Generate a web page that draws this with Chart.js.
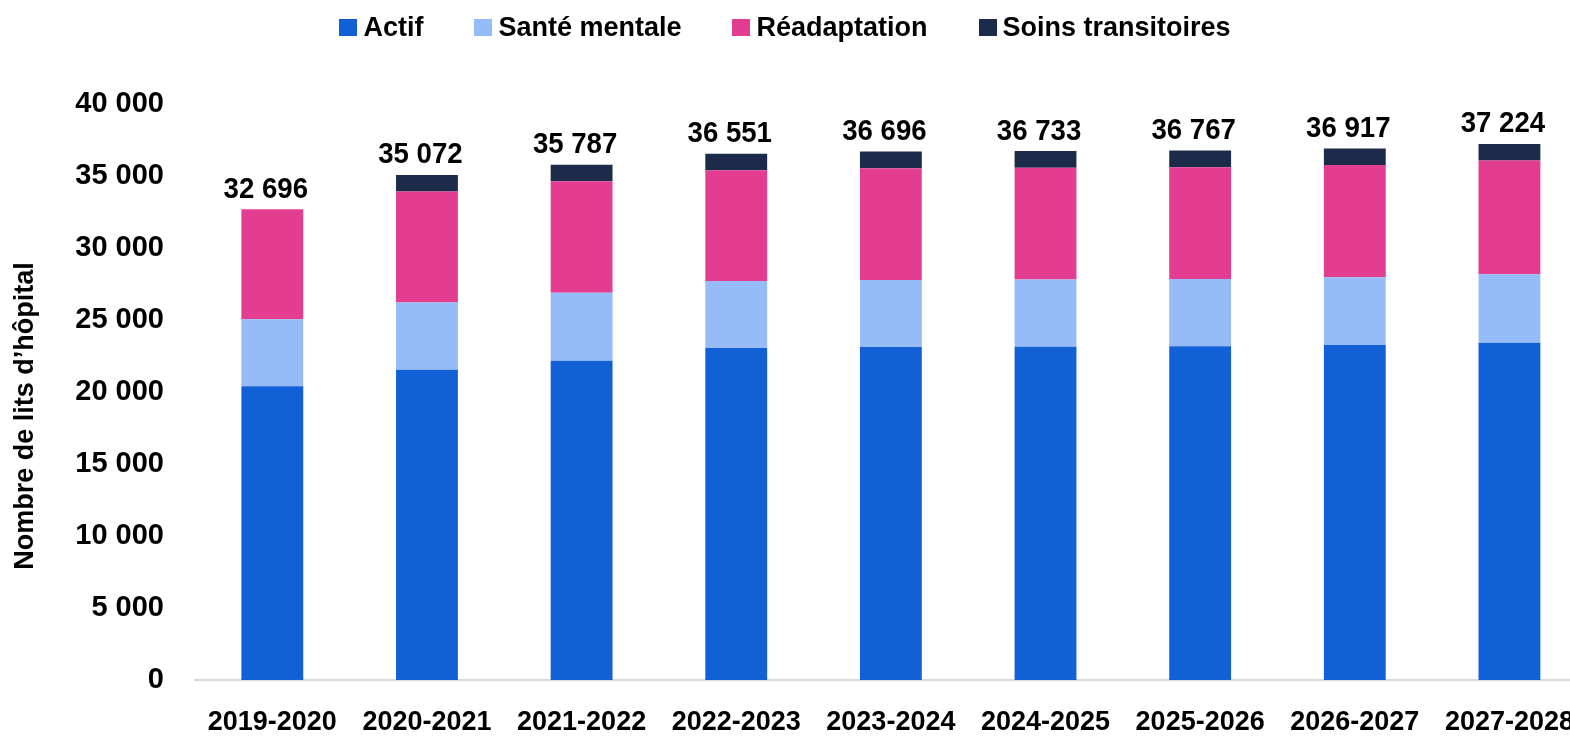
<!DOCTYPE html>
<html>
<head>
<meta charset="utf-8">
<script src="https://cdn.jsdelivr.net/npm/chart.js@4/dist/chart.umd.min.js"></script>
<style>
  html, body { margin: 0; padding: 0; background: #fff; overflow: hidden; width: 1570px; height: 737px; }
  #wrap { position: relative; width: 1600px; height: 737px; }
  #legend { position: absolute; top: 12px; left: 0; width: 1570px; display: flex; justify-content: center; align-items: center; font-family: "Liberation Sans", Arial, sans-serif; font-weight: bold; font-size: 27px; color: #000; z-index: 2; }
  .item { display: flex; align-items: center; margin: 0 25.5px; }
  .box { width: 18px; height: 17px; margin-right: 6px; }
  canvas { position: absolute; left: 0; top: 0; width: 1600px; height: 737px; }
</style>
</head>
<body>
<div id="wrap">
  <div id="legend"></div>
  <canvas id="c" width="1600" height="737"></canvas>
</div>
<script>
const categories = ["2019-2020","2020-2021","2021-2022","2022-2023","2023-2024","2024-2025","2025-2026","2026-2027","2027-2028"];
const actif = [20400, 21550, 22170, 23060, 23130, 23140, 23170, 23270, 23420];
const santeMentale = [4650, 4670, 4730, 4640, 4640, 4680, 4680, 4700, 4750];
const readaptation = [7646, 7700, 7730, 7700, 7770, 7760, 7760, 7800, 7900];
const soinsTransitoires = [0, 1152, 1157, 1151, 1156, 1153, 1157, 1147, 1154];
const totals = [32696, 35072, 35787, 36551, 36696, 36733, 36767, 36917, 37224];
const seriesNames = ["Actif", "Santé mentale", "Réadaptation", "Soins transitoires"];
const seriesColors = ["#1160D6", "#95BCF7", "#E33D92", "#1C2B4A"];
const yTicks = [0, 5000, 10000, 15000, 20000, 25000, 30000, 35000, 40000];
const yTitle = "Nombre de lits d’hôpital";

const FONT = '"Liberation Sans", Arial, sans-serif';
const fmt = v => String(v).replace(/\B(?=(\d{3})+(?!\d))/g, ' ');

// HTML legend
const leg = document.getElementById('legend');
seriesNames.forEach((n, i) => {
  const it = document.createElement('div'); it.className = 'item';
  const b = document.createElement('div'); b.className = 'box'; b.style.background = seriesColors[i];
  const t = document.createElement('span'); t.textContent = n;
  it.appendChild(b); it.appendChild(t); leg.appendChild(it);
});

const extras = {
  id: 'extras',
  afterDatasetsDraw(chart) {
    const ctx = chart.ctx;
    const y = chart.scales.y, x = chart.scales.x;
    totals.forEach((t, i) => {
      ctx.save();
      ctx.font = 'bold 30px ' + FONT;
      ctx.fillStyle = '#000';
      ctx.textAlign = 'center';
      ctx.textBaseline = 'alphabetic';
      ctx.translate(x.getPixelForValue(i) - 6.5, y.getPixelForValue(t) - 11.5);
      ctx.scale(0.92, 1);
      ctx.fillText(fmt(t), 0, 0);
      ctx.restore();
    });
    // y-axis title
    ctx.save();
    ctx.font = 'bold 27px ' + FONT;
    ctx.fillStyle = '#000';
    ctx.textAlign = 'center';
    ctx.textBaseline = 'middle';
    ctx.translate(26, 416);
    ctx.rotate(-Math.PI / 2);
    ctx.fillText(yTitle, 0, 0);
    ctx.restore();
  }
};

const mk = (label, data, color) => ({ label, data, backgroundColor: color, borderWidth: 0, barPercentage: 0.4, categoryPercentage: 1.0 });

new Chart(document.getElementById('c'), {
  type: 'bar',
  data: {
    labels: categories,
    datasets: [
      mk(seriesNames[0], actif, seriesColors[0]),
      mk(seriesNames[1], santeMentale, seriesColors[1]),
      mk(seriesNames[2], readaptation, seriesColors[2]),
      mk(seriesNames[3], soinsTransitoires, seriesColors[3])
    ]
  },
  options: {
    responsive: false,
    animation: false,
    devicePixelRatio: 1,
    layout: { padding: { top: 104, right: 0, left: 0, bottom: 0 } },
    plugins: { legend: { display: false }, tooltip: { enabled: false } },
    scales: {
      x: {
        stacked: true,
        grid: { display: false, drawTicks: false },
        border: { display: true, color: '#D9D9D9', width: 2 },
        ticks: { color: '#000', font: { family: FONT, size: 27, weight: 'bold' }, padding: 26, maxRotation: 0, autoSkip: false },
        afterFit(s) { s.height = 57; }
      },
      y: {
        stacked: true,
        min: 0, max: 40000,
        afterBuildTicks(s) { s.ticks = yTicks.map(v => ({ value: v })); },
        grid: { display: false, drawTicks: false },
        border: { display: false },
        ticks: { color: '#000', font: { family: FONT, size: 29, weight: 'bold' }, padding: 31, callback: v => fmt(v) },
        title: { display: false },
        afterFit(s) { s.width = 195; }
      }
    }
  },
  plugins: [extras]
});
</script>
</body>
</html>
